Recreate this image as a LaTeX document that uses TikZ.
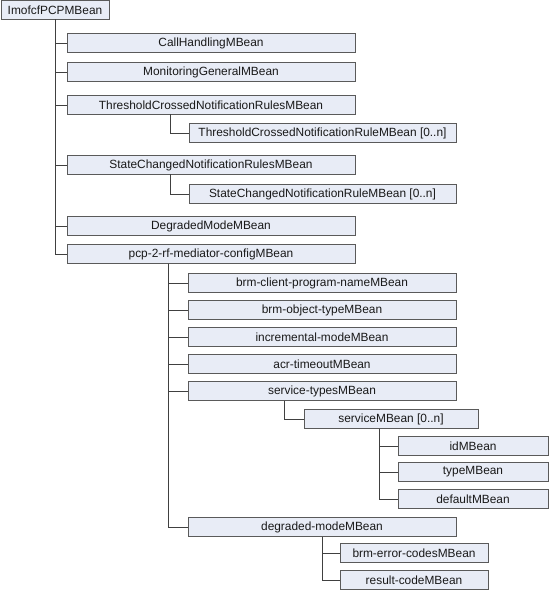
\documentclass[tikz,border=0pt]{standalone}
\usepackage{fontspec}
\setmainfont{Liberation Sans}
\usetikzlibrary{shadows}

\definecolor{beanfill}{RGB}{232,236,246}
\definecolor{beanline}{RGB}{90,90,90}
\definecolor{wireline}{RGB}{64,64,64}

\begin{document}
\begin{tikzpicture}[x=1pt,y=1pt,yscale=-1,xscale=1,
  bean/.style={draw=beanline, fill=beanfill, line width=0.8pt, anchor=west,
    minimum height=19pt, inner sep=0pt, outer sep=0pt,
    font=\fontsize{11.9}{13}\selectfont, text=black!90,
    drop shadow={shadow xshift=0.9pt, shadow yshift=-0.9pt, fill=black!70, opacity=1}},
  wire/.style={draw=wireline, line width=0.9pt}]
%set diagram left start at 0, and has height of 593
\useasboundingbox (0,0) rectangle (550,593);

%Shape: Rectangle [root]
\node [bean, minimum width=108pt] (root) at (1,10) {ImofcfPCPMBean};

%Shape: Rectangle [first level]
\node [bean, minimum width=288pt] (callhandling) at (67,43) {CallHandlingMBean};
\node [bean, minimum width=288pt] (monitoring) at (67,72) {MonitoringGeneralMBean};
\node [bean, minimum width=288pt] (thresholds) at (67,105) {ThresholdCrossedNotificationRulesMBean};
\node [bean, minimum width=267pt] (thresholdrule) at (189,133) {ThresholdCrossedNotificationRuleMBean [0..n]};
\node [bean, minimum width=288pt] (statechanges) at (67,165) {StateChangedNotificationRulesMBean};
\node [bean, minimum width=267pt] (staterule) at (189,194) {StateChangedNotificationRuleMBean [0..n]};
\node [bean, minimum width=288pt] (degraded) at (67,226) {DegradedModeMBean};
\node [bean, minimum width=288pt] (mediator) at (67,254) {pcp-2-rf-mediator-configMBean};

%Shape: Rectangle [mediator children]
\node [bean, minimum width=268pt] (clientname) at (188,283) {brm-client-program-nameMBean};
\node [bean, minimum width=268pt] (objecttype) at (188,310) {brm-object-typeMBean};
\node [bean, minimum width=268pt] (incremental) at (188,337) {incremental-modeMBean};
\node [bean, minimum width=268pt] (acrtimeout) at (188,364) {acr-timeoutMBean};
\node [bean, minimum width=268pt] (servicetypes) at (188,391) {service-typesMBean};
\node [bean, minimum width=174pt] (service) at (304,419) {serviceMBean [0..n]};
\node [bean, minimum width=150pt] (id) at (398,446) {idMBean};
\node [bean, minimum width=150pt] (type) at (398,472) {typeMBean};
\node [bean, minimum width=150pt] (default) at (398,499) {defaultMBean};
\node [bean, minimum width=268pt] (degradedmode) at (188,527) {degraded-modeMBean};
\node [bean, minimum width=148pt] (errorcodes) at (340,553) {brm-error-codesMBean};
\node [bean, minimum width=148pt] (resultcode) at (340,580) {result-codeMBean};

%Straight Lines [root]
\foreach \kid in {callhandling,monitoring,thresholds,statechanges,degraded,mediator}
  \draw [wire] (root.south) |- (\kid.west);
%Straight Lines [rules]
\draw [wire] (thresholds.south west) ++(103,0) |- (thresholdrule.west);
\draw [wire] (statechanges.south west) ++(103,0) |- (staterule.west);
%Straight Lines [mediator]
\foreach \kid in {clientname,objecttype,incremental,acrtimeout,servicetypes,degradedmode}
  \draw [wire] (mediator.south west) ++(101,0) |- (\kid.west);
\draw [wire] (servicetypes.south west) ++(96,0) |- (service.west);
\foreach \kid in {id,type,default}
  \draw [wire] (service.south west) ++(75,0) |- (\kid.west);
\foreach \kid in {errorcodes,resultcode}
  \draw [wire] (degradedmode.south west) ++(134,0) |- (\kid.west);
\end{tikzpicture}
\end{document}
